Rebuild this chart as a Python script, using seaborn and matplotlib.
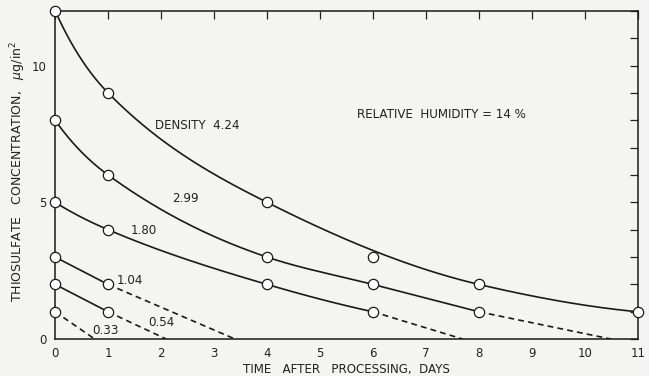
import numpy as np
import pandas as pd
import matplotlib
matplotlib.use("Agg")
import matplotlib.pyplot as plt
import seaborn as sns

# ---- data ----
densities = ["4.24", "2.99", "1.80", "1.04", "0.54", "0.33"]

days_424 = [0, 1, 4, 6, 8, 11]
conc_424 = [12, 9, 5, 3, 2, 1]
curve_days_424 = [0, 1, 4, 8, 11]          # smooth curve drawn past the day-6 point
curve_conc_424 = [12, 9, 5, 2, 1]

days_299 = [0, 1, 4, 6, 8]
conc_299 = [8, 6, 3, 2, 1]
dash_days_299 = [8, 10.5]
dash_conc_299 = [1, 0]

days_180 = [0, 1, 4, 6]
conc_180 = [5, 4, 2, 1]
dash_days_180 = [6, 7.7]
dash_conc_180 = [1, 0]

days_104 = [0, 1]
conc_104 = [3, 2]
dash_days_104 = [1, 3.4]
dash_conc_104 = [2, 0]

days_054 = [0, 1]
conc_054 = [2, 1]
dash_days_054 = [1, 2.1]
dash_conc_054 = [1, 0]

days_033 = [0]
conc_033 = [1]
dash_days_033 = [0, 0.75]
dash_conc_033 = [1, 0]

x_ticks = list(range(0, 12))
y_ticks = [0, 5, 10]


def smooth(x, y, xs):
    """shape-preserving cubic Hermite: a smooth rendering of the hand-drawn curve"""
    x = np.asarray(x, float); y = np.asarray(y, float)
    n = len(x)
    if n == 2:
        return np.interp(xs, x, y)
    h = np.diff(x); d = np.diff(y) / h
    m = np.zeros(n)
    for k in range(1, n - 1):
        if d[k - 1] * d[k] > 0:
            w1 = 2 * h[k] + h[k - 1]; w2 = h[k] + 2 * h[k - 1]
            m[k] = (w1 + w2) / (w1 / d[k - 1] + w2 / d[k])
    # end tangents chosen inside the convexity window of the end segments
    m[0] = 0.5 * ((3 * d[0] - 2 * m[1]) + (3 * d[0] - m[1]) / 2)
    m[-1] = 0.5 * ((3 * d[-1] - 2 * m[-2]) + (3 * d[-1] - m[-2]) / 2)
    idx = np.clip(np.searchsorted(x, xs) - 1, 0, n - 2)
    t = (xs - x[idx]) / h[idx]
    h00 = 2 * t**3 - 3 * t**2 + 1; h10 = t**3 - 2 * t**2 + t
    h01 = -2 * t**3 + 3 * t**2; h11 = t**3 - t**2
    return h00 * y[idx] + h10 * h[idx] * m[idx] + h01 * y[idx + 1] + h11 * h[idx] * m[idx + 1]


sns.set_theme(style="white")
plt.rcParams["font.family"] = ["DejaVu Sans"]

fig = plt.figure(figsize=(6.49, 3.76), dpi=100)
bg = "#f4f4f2"
fig.patch.set_facecolor(bg)
ax = fig.add_axes([0.085, 0.098, 0.898, 0.873])
ax.set_facecolor(bg)

solid_sets = [
    (curve_days_424, curve_conc_424),
    (days_299, conc_299),
    (days_180, conc_180),
    (days_104, conc_104),
    (days_054, conc_054),
]
for xs_, ys_ in solid_sets:
    xx = np.linspace(xs_[0], xs_[-1], 300)
    yy = smooth(xs_, ys_, xx)
    sns.lineplot(x=xx, y=yy, ax=ax, color="#1a1a1a", lw=1.2, sort=False)

dash_sets = [
    (dash_days_299, dash_conc_299),
    (dash_days_180, dash_conc_180),
    (dash_days_104, dash_conc_104),
    (dash_days_054, dash_conc_054),
    (dash_days_033, dash_conc_033),
]
for xs_, ys_ in dash_sets:
    sns.lineplot(x=xs_, y=ys_, ax=ax, color="#1a1a1a", lw=1.2,
                 linestyle=(0, (3.5, 2.5)), sort=False)

pts = pd.DataFrame({
    "day": days_424 + days_299 + days_180 + days_104 + days_054 + days_033,
    "conc": conc_424 + conc_299 + conc_180 + conc_104 + conc_054 + conc_033,
})
sns.scatterplot(data=pts, x="day", y="conc", ax=ax, s=55, marker="o",
                facecolor="white", edgecolor="#1a1a1a", linewidth=0.9,
                zorder=5, clip_on=False)

ax.set_xlim(0, 11)
ax.set_ylim(0, 12)
ax.set_xticks(x_ticks)
ax.set_xticklabels([str(t) for t in x_ticks])
ax.set_yticks(y_ticks)
ax.set_yticklabels([str(t) for t in y_ticks])
ax.set_yticks(range(0, 13), minor=True)
ax.tick_params(axis="both", which="both", direction="in", top=True, right=True,
               labelsize=8.5, colors="#222222", length=6, width=0.9, pad=6)
ax.tick_params(axis="y", which="minor", length=6, width=0.9)
for s in ax.spines.values():
    s.set_color("#1a1a1a")
    s.set_linewidth(1.1)

ax.set_xlabel("TIME   AFTER   PROCESSING,  DAYS", fontsize=8.6, color="#222222", labelpad=2)
ax.set_ylabel("THIOSULFATE   CONCENTRATION,   $\\mu$g/in$^2$", fontsize=9.0,
              color="#222222")
ax.yaxis.set_label_coords(-0.046, 0.51)

lab_kw = dict(fontsize=8.6, color="#222222", va="center", ha="left")
ax.text(1.88, 7.8, "DENSITY  4.24", **lab_kw)
ax.text(2.2, 5.15, "2.99", **lab_kw)
ax.text(1.42, 3.97, "1.80", **lab_kw)
ax.text(1.17, 2.15, "1.04", **lab_kw)
ax.text(1.75, 0.6, "0.54", **lab_kw)
ax.text(0.7, 0.3, "0.33", **lab_kw)
ax.text(5.7, 8.2, "RELATIVE  HUMIDITY = 14 %", **lab_kw)

fig.savefig("out.png", dpi=100, facecolor=bg)
